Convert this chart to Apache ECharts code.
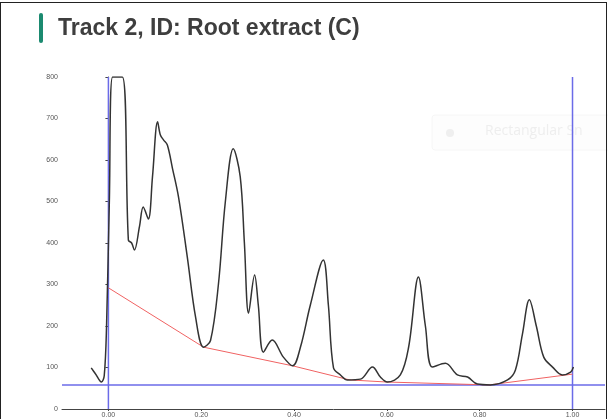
<!DOCTYPE html>
<html>
<head>
<meta charset="utf-8">
<script src="https://cdn.jsdelivr.net/npm/echarts@6/dist/echarts.min.js"></script>
<style>
  html, body { margin: 0; padding: 0; background: #fff; }
  #chart { width: 608px; height: 419px; position: relative; }
  #frame {
    position: absolute; left: 0px; top: 2px; width: 605px; height: 430px;
    border: 1.5px solid #222; pointer-events: none;
  }
</style>
</head>
<body>
<div id="chart"></div>
<div id="frame"></div>
<script>
// signal trace (retention position, intensity)
var signalX = [-0.037, -0.028, -0.015, -0.009, -0.004, 0.002, 0.009, 0.030, 0.043, 0.050, 0.056, 0.067, 0.075,
  0.086, 0.095, 0.106, 0.112, 0.119, 0.127, 0.138, 0.151, 0.170, 0.188, 0.205, 0.220, 0.237, 0.252, 0.269,
  0.284, 0.293, 0.302, 0.315, 0.323, 0.334, 0.353, 0.377, 0.397, 0.414, 0.435, 0.463, 0.474, 0.485, 0.500,
  0.515, 0.543, 0.569, 0.586, 0.601, 0.629, 0.647, 0.668, 0.683, 0.698, 0.726, 0.752, 0.774, 0.795, 0.823,
  0.860, 0.877, 0.892, 0.907, 0.922, 0.938, 0.957, 0.978, 0.996, 1.002];
var signalY = [99, 85, 65, 80, 200, 500, 800, 800, 407, 400, 383, 440, 487,
  458, 560, 692, 660, 648, 636, 580, 511, 366, 220, 149, 165, 300, 500, 627,
  560, 400, 231, 323, 250, 137, 166, 125, 104, 150, 250, 359, 250, 99, 82,
  70, 72, 101, 77, 65, 82, 150, 318, 200, 101, 110, 82, 77, 60, 58,
  70, 94, 180, 263, 200, 125, 101, 82, 89, 101];

// baseline
var baseX = [0.000, 0.205, 0.397, 0.520, 0.600, 0.820, 1.000];
var baseY = [292, 149, 104, 70, 65, 58, 84];

// lane markers
var startX = 0.0, endX = 1.0, thresholdY = 58;
var xTicks = [0, 0.2, 0.4, 0.6, 0.8, 1.0];

function pairs(xs, ys) {
  return xs.map(function (x, i) { return [x, ys[i]]; });
}

var chart = echarts.init(document.getElementById('chart'));
var blue = '#6b6be8';
chart.setOption({
  animation: false,
  title: {
    text: 'Track 2, ID: Root extract (C)',
    left: 53, top: 12,
    textStyle: { fontFamily: 'Liberation Sans', fontSize: 23, fontWeight: 'bold', color: '#3e3e3e' }
  },
  graphic: [
    { type: 'rect', shape: { x: 39, y: 13, width: 4, height: 30, r: 2 }, style: { fill: '#1b8a70' } },
    { type: 'rect', shape: { x: 432, y: 115, width: 190, height: 35, r: 3 },
      style: { fill: '#fdfdfd', stroke: '#f6f6f6', lineWidth: 1 }, z: -1 },
    { type: 'circle', shape: { cx: 450, cy: 133, r: 4 }, style: { fill: '#efefef' } },
    { type: 'text', x: 485, y: 124,
      style: { text: 'Rectangular Sn', fill: '#eeeeee', fontSize: 14, fontFamily: 'Open Sans' } }
  ],
  grid: { left: 62, right: 3, top: 77, bottom: 10, containLabel: false, outerBoundsMode: 'none' },
  xAxis: {
    type: 'value', min: -0.1, max: 1.07,
    splitLine: { show: false },
    axisLine: { lineStyle: { color: '#444', width: 1 } },
    axisTick: { show: true, length: 2, customValues: xTicks, lineStyle: { color: '#444' } },
    axisLabel: {
      customValues: xTicks, fontSize: 7, color: '#555', margin: 3,
      formatter: function (v) { return v.toFixed(2); }
    }
  },
  yAxis: {
    type: 'value', min: 0, max: 800, interval: 100,
    splitLine: { show: false },
    axisLine: { show: true, lineStyle: { color: '#444', width: 1 } },
    axisTick: { show: true, length: 3, lineStyle: { color: '#444' } },
    axisLabel: { fontSize: 7, color: '#555', margin: 4 }
  },
  series: [
    { type: 'line', data: [[-0.1, thresholdY], [1.07, thresholdY]], symbol: 'none',
      lineStyle: { color: blue, width: 1.5 }, z: 1 },
    { type: 'line', data: [[startX, 0], [startX, 800]], symbol: 'none',
      lineStyle: { color: blue, width: 1.5 }, z: 1 },
    { type: 'line', data: [[endX, 0], [endX, 800]], symbol: 'none',
      lineStyle: { color: blue, width: 1.5 }, z: 1 },
    { type: 'line', data: pairs(baseX, baseY), symbol: 'none',
      lineStyle: { color: '#f06262', width: 1 }, z: 2 },
    { type: 'line', data: pairs(signalX, signalY), symbol: 'none', smooth: 0.35,
      lineStyle: { color: '#333', width: 1.5 }, z: 3 }
  ]
});
</script>
</body>
</html>
